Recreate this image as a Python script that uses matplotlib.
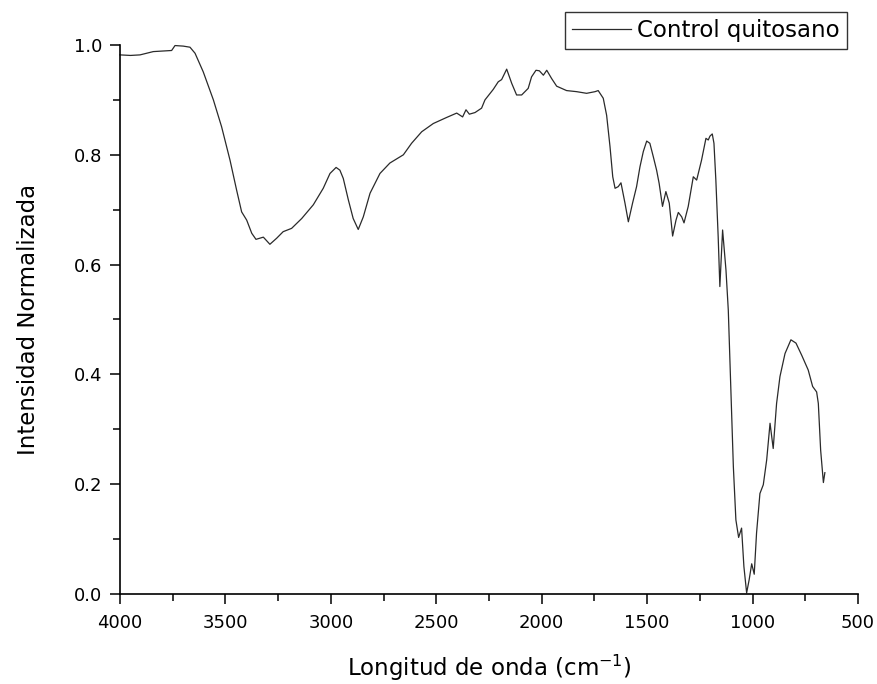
import matplotlib
matplotlib.use("Agg")
import matplotlib.pyplot as plt
from matplotlib.ticker import MultipleLocator

# espectro (numero de onda, intensidad normalizada)
onda = [4000, 3950, 3905, 3842, 3755, 3739, 3700, 3668, 3644, 3605, 3557, 3518,
        3478, 3447, 3423, 3399, 3375, 3355, 3320, 3289, 3257, 3226, 3186, 3138,
        3083, 3036, 3004, 2975, 2957, 2941, 2917, 2894, 2870, 2846, 2814, 2767,
        2720, 2656, 2617, 2569, 2514, 2451, 2403, 2375, 2359, 2343, 2316, 2285,
        2269, 2230, 2206, 2190, 2166, 2142, 2119, 2095, 2064, 2048, 2027, 2011,
        1992, 1976, 1953, 1929, 1882, 1834, 1787, 1747, 1732, 1708, 1692, 1676,
        1663, 1652, 1637, 1624, 1605, 1589, 1569, 1550, 1534, 1518, 1502, 1487,
        1471, 1455, 1443, 1427, 1411, 1395, 1379, 1363, 1352, 1336, 1325, 1305,
        1281, 1265, 1242, 1221, 1210, 1202, 1191, 1183, 1174, 1163, 1155, 1142,
        1126, 1115, 1104, 1091, 1079, 1066, 1052, 1041, 1028, 1016, 1004, 992,
        981, 965, 949, 933, 917, 902, 886, 870, 846, 818, 794, 767,
        736, 715, 696, 688, 677, 664, 657]
intensidad = [0.982, 0.981, 0.982, 0.988, 0.990, 0.999, 0.998, 0.996, 0.985, 0.951, 0.900, 0.851,
              0.790, 0.736, 0.696, 0.681, 0.657, 0.646, 0.650, 0.637, 0.648, 0.660, 0.666, 0.684,
              0.709, 0.739, 0.766, 0.777, 0.772, 0.757, 0.718, 0.684, 0.664, 0.687, 0.730, 0.766,
              0.785, 0.800, 0.821, 0.842, 0.857, 0.868, 0.876, 0.869, 0.882, 0.874, 0.877, 0.885,
              0.900, 0.919, 0.933, 0.937, 0.956, 0.930, 0.909, 0.909, 0.921, 0.942, 0.954, 0.953,
              0.945, 0.954, 0.939, 0.925, 0.917, 0.915, 0.912, 0.915, 0.917, 0.903, 0.872, 0.815,
              0.760, 0.739, 0.742, 0.749, 0.712, 0.678, 0.712, 0.742, 0.778, 0.806, 0.825, 0.821,
              0.797, 0.772, 0.748, 0.706, 0.733, 0.712, 0.652, 0.681, 0.695, 0.687, 0.676, 0.706,
              0.760, 0.754, 0.790, 0.830, 0.827, 0.834, 0.838, 0.821, 0.754, 0.651, 0.560, 0.663,
              0.590, 0.517, 0.384, 0.232, 0.135, 0.103, 0.120, 0.050, 0.002, 0.026, 0.055, 0.036,
              0.111, 0.183, 0.199, 0.244, 0.311, 0.265, 0.347, 0.396, 0.438, 0.463, 0.457, 0.435,
              0.408, 0.378, 0.368, 0.347, 0.262, 0.203, 0.221]

plt.rcParams['font.family'] = ['DejaVu Sans']
plt.rcParams['mathtext.default'] = 'regular'

fig = plt.figure(figsize=(8.77, 6.84), dpi=100)
ax = fig.add_axes([0.1368, 0.1316, 0.8415, 0.8026])

ax.plot(onda, intensidad, color='#2a2a2a', lw=0.9, label='Control quitosano', clip_on=False)

ax.set_xlim(4000, 500)
ax.set_ylim(0, 1.0)
ax.xaxis.set_major_locator(MultipleLocator(500))
ax.xaxis.set_minor_locator(MultipleLocator(250))
ax.yaxis.set_major_locator(MultipleLocator(0.2))
ax.yaxis.set_minor_locator(MultipleLocator(0.1))
ax.yaxis.set_major_formatter(plt.FormatStrFormatter('%.1f'))

for s in ['top', 'right']:
    ax.spines[s].set_visible(False)
for s in ['left', 'bottom']:
    ax.spines[s].set_linewidth(1.2)

ax.tick_params(which='major', direction='out', length=7.5, width=1.1, labelsize=13)
ax.tick_params(axis='x', which='major', pad=7)
ax.tick_params(axis='y', which='major', pad=5.5)
ax.tick_params(which='minor', direction='out', length=5, width=1.1)

ax.set_xlabel('Longitud de onda (cm$^{-1}$)', fontsize=16.5, labelpad=15)
ax.set_ylabel('Intensidad Normalizada', fontsize=16.5, labelpad=24)

leg = ax.legend(loc='upper right', bbox_to_anchor=(0.985, 1.06), borderaxespad=0,
                fontsize=16.5, fancybox=False, framealpha=1, edgecolor='#333333',
                handlelength=2.55, handletextpad=0.3, borderpad=0.3)
leg.get_frame().set_linewidth(1.0)

fig.savefig('out.png', dpi=100)
